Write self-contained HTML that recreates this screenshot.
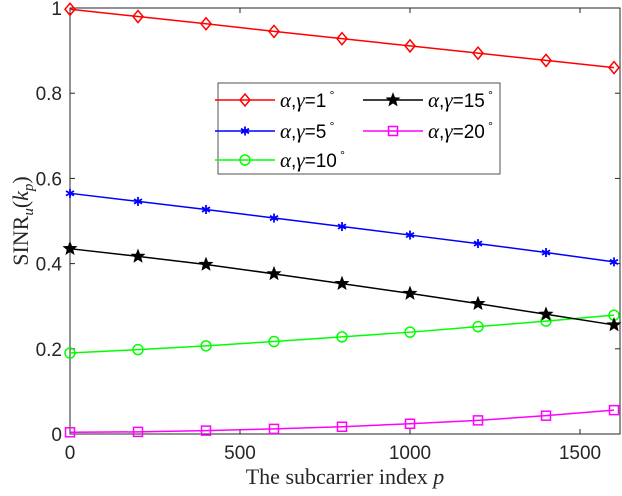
<!DOCTYPE html>
<html><head><meta charset="utf-8"><style>
body{margin:0;background:#fff}
svg{display:block}
text{font-family:"Liberation Sans",sans-serif}
</style></head><body>
<svg id="c" width="622" height="496"></svg>
<script>
const xs=[0,200,400,600,800,1000,1200,1400,1600];
const sRed=[0.997,0.980,0.963,0.945,0.928,0.911,0.894,0.877,0.860];
const sBlue=[0.565,0.546,0.527,0.507,0.487,0.467,0.447,0.426,0.404];
const sGreen=[0.190,0.198,0.207,0.217,0.228,0.239,0.252,0.265,0.279];
const sBlack=[0.435,0.417,0.398,0.376,0.353,0.330,0.306,0.281,0.256];
const sMag=[0.004,0.005,0.008,0.012,0.017,0.024,0.032,0.043,0.056];
const xTicks=[0,500,1000,1500];
const yTicks=[0,0.2,0.4,0.6,0.8,1];
const L=70,R=620,T=8,B=434;
const X=v=>L+v*(614-L)/1600;
const Y=v=>B-v*(B-T);
const svg=document.getElementById('c');
const NS='http://www.w3.org/2000/svg';
function mk(t,a,p){const e=document.createElementNS(NS,t);for(const k in a)e.setAttribute(k,a[k]);(p||svg).appendChild(e);return e;}
let fr=mk('rect',{x:L,y:T,width:R-L,height:B-T,fill:'none',stroke:'#262626','stroke-width':1});


xTicks.forEach(v=>{
 mk('line',{x1:X(v),x2:X(v),y1:B,y2:B-5,stroke:'#262626'});
 mk('line',{x1:X(v),x2:X(v),y1:T,y2:T+5,stroke:'#262626'});
 let t=mk('text',{x:X(v),y:B+25,'text-anchor':'middle','font-size':19,fill:'#262626'});t.textContent=v;
 
 
});
yTicks.forEach(v=>{
 mk('line',{x1:L,x2:L+5,y1:Y(v),y2:Y(v),stroke:'#262626'});
 mk('line',{x1:R,x2:R-5,y1:Y(v),y2:Y(v),stroke:'#262626'});
 let t=mk('text',{x:L-8,y:Y(v)+7,'text-anchor':'end','font-size':19,fill:'#262626'});t.textContent=v;
 
 
});
let xl=mk('text',{x:(L+R)/2,y:484,'text-anchor':'middle','font-size':22,fill:'#262626',style:'font-family:"Liberation Serif",serif'});
xl.innerHTML='The subcarrier index <tspan font-style="italic">p</tspan>';


let yl=mk('text',{x:0,y:0,'text-anchor':'middle','font-size':22,fill:'#262626',transform:'translate(28,221) rotate(-90)',style:'font-family:"Liberation Serif",serif'});
yl.innerHTML='SINR<tspan font-style="italic" font-size="15" dy="5">u</tspan><tspan dy="-5">(</tspan><tspan font-style="italic">k</tspan><tspan font-style="italic" font-size="15" dy="5">p</tspan><tspan dy="-5">)</tspan>';


function marker(type,x,y,c,p){
 if(type==='d')mk('polygon',{points:`${x},${y-6} ${x+5},${y} ${x},${y+6} ${x-5},${y}`,fill:'none',stroke:c,'stroke-width':1.5},p);
 else if(type==='o')mk('circle',{cx:x,cy:y,r:5,fill:'none',stroke:c,'stroke-width':1.5},p);
 else if(type==='s')mk('rect',{x:x-4.5,y:y-4.5,width:9,height:9,fill:'none',stroke:c,'stroke-width':1.5},p);
 else if(type==='*'){[[0,4.5],[4,2.3],[4,-2.3]].forEach(([dx,dy])=>mk('line',{x1:x-dx,y1:y-dy,x2:x+dx,y2:y+dy,stroke:c,'stroke-width':1.8},p));}
 else if(type==='p'){let pts=[];for(let i=0;i<10;i++){const r=i%2?2.8:6.5,a=-Math.PI/2+i*Math.PI/5;pts.push((x+r*Math.cos(a)).toFixed(1)+','+(y+r*Math.sin(a)).toFixed(1));}mk('polygon',{points:pts.join(' '),fill:c,stroke:c},p);}
}
const series=[[sRed,'#ff0000','d','series-gamma-1'],[sBlue,'#0000ff','*','series-gamma-5'],[sGreen,'#00ff00','o','series-gamma-10'],[sBlack,'#000000','p','series-gamma-15'],[sMag,'#ff00ff','s','series-gamma-20']];
series.forEach(([d,c,m,n])=>{
 const g=mk('g',{});
 
 
 mk('polyline',{points:d.map((v,i)=>X(xs[i])+','+Y(v)).join(' '),fill:'none',stroke:c,'stroke-width':1.5},g);
 d.forEach((v,i)=>marker(m,X(xs[i]),Y(v),c,g));
});
const lg=mk('g',{});


mk('rect',{x:218,y:83,width:282,height:91,fill:'#fff',stroke:'#262626','stroke-width':0.8},lg);
const ent=[[225,100,'#ff0000','d','1'],[225,131,'#0000ff','*','5'],[225,160,'#00ff00','o','10'],[373,100,'#000000','p','15'],[373,131,'#ff00ff','s','20']];
ent.forEach(([x,y,c,m,l])=>{
 const e=mk('g',{},lg);
 
 
 mk('line',{x1:x-10,x2:x+50,y1:y,y2:y,stroke:c,'stroke-width':1.5},e);
 marker(m,x+20,y,c,e);
 const t=mk('text',{x:x+55,y:y+7,'font-size':19,fill:'#000'},e);
 t.innerHTML='<tspan font-style="italic" font-size="21" style="font-family:\'Liberation Serif\',serif">α</tspan>,<tspan font-style="italic" font-size="21" style="font-family:\'Liberation Serif\',serif">γ</tspan>='+l+'<tspan font-size="12" dy="-8"> °</tspan>';
});
</script>
</body></html>
